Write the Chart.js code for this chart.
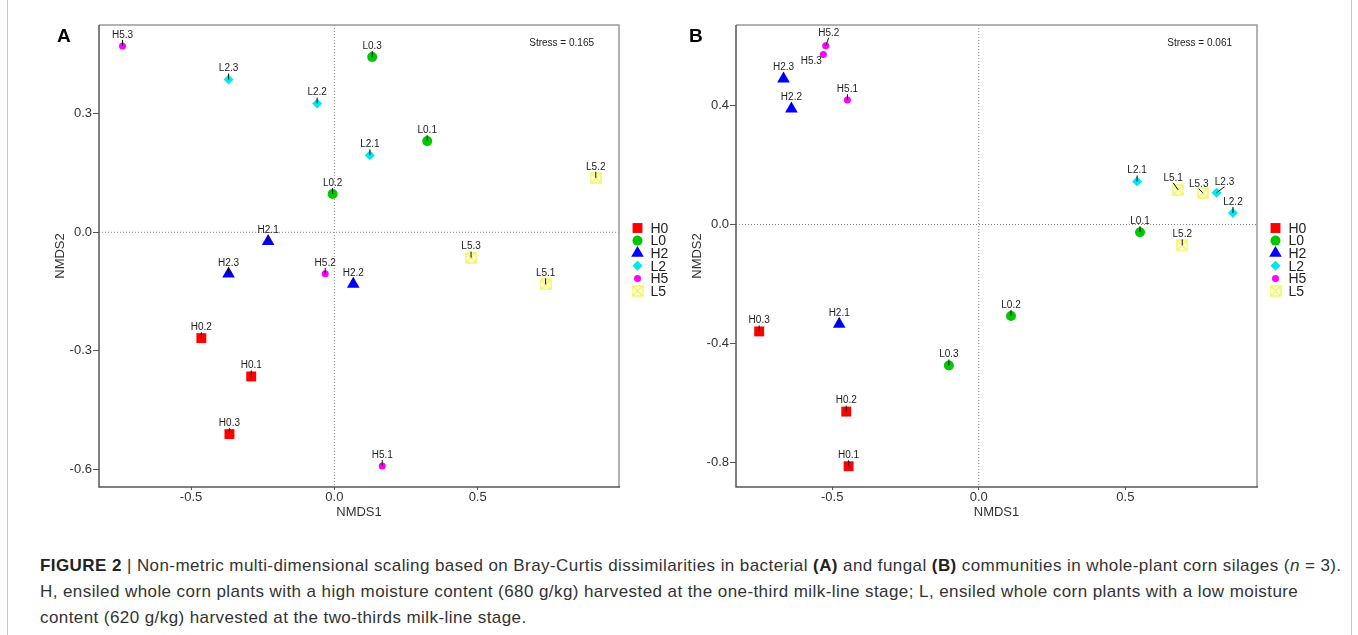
<!DOCTYPE html>
<html>
<head>
<meta charset="utf-8">
<script src="https://cdn.jsdelivr.net/npm/chart.js@4.4.0/dist/chart.umd.min.js"></script>
<style>
    body { margin: 0; background: #fff; width: 1358px; height: 635px; position: relative; overflow: hidden; font-family: "Liberation Sans", Arial, sans-serif; }
    #cA { position: absolute; left: 0; top: 0; }
    #cB { position: absolute; left: 680px; top: 0; }
    .tag { position: absolute; font-weight: bold; font-size: 19px; line-height: 19px; color: #000; }
    .frame { position: absolute; left: 7px; top: -2px; width: 1343px; height: 640px; border-left: 1px solid #c8c8c8; border-right: 1px solid #c8c8c8; }
    .caption { position: absolute; left: 40px; top: 553px; font-size: 17px; letter-spacing: 0.42px; line-height: 26px; color: #333; white-space: nowrap; }
    .caption b { color: #222; }
</style>
</head>
<body>
<div class="frame"></div>
<canvas id="cA" width="680" height="520"></canvas>
<canvas id="cB" width="678" height="520"></canvas>
<div class="tag" style="left:57px;top:26px">A</div>
<div class="tag" style="left:689px;top:26px">B</div>
<div class="caption">
    <b>FIGURE 2</b> | Non-metric multi-dimensional scaling based on Bray-Curtis dissimilarities in bacterial <b>(A)</b> and fungal <b>(B)</b> communities in whole-plant corn silages (<i>n</i> = 3).<br>
    H, ensiled whole corn plants with a high moisture content (680 g/kg) harvested at the one-third milk-line stage; L, ensiled whole corn plants with a low moisture<br>
    content (620 g/kg) harvested at the two-thirds milk-line stage.
</div>

<script>
// --- datos ---
const groups = ['H0', 'L0', 'H2', 'L2', 'H5', 'L5'];

const sampleNames = ['H0.1', 'H0.2', 'H0.3', 'L0.1', 'L0.2', 'L0.3', 'H2.1', 'H2.2', 'H2.3',
                     'L2.1', 'L2.2', 'L2.3', 'H5.1', 'H5.2', 'H5.3', 'L5.1', 'L5.2', 'L5.3'];

// Panel A (bacterias)
const aX = [-0.290, -0.464, -0.366, 0.324, -0.006, 0.132, -0.231, 0.066, -0.369,
            0.124, -0.060, -0.369, 0.167, -0.032, -0.739, 0.737, 0.912, 0.477];
const aY = [-0.365, -0.268, -0.511, 0.231, 0.097, 0.444, -0.023, -0.131, -0.105,
            0.195, 0.326, 0.387, -0.592, -0.105, 0.472, -0.132, 0.138, -0.064];
const aXTicks = [-0.5, 0.0, 0.5];
const aYTicks = [-0.6, -0.3, 0.0, 0.3];
const aStress = 'Stress = 0.165';

// Panel B (hongos)
const bX = [-0.444, -0.452, -0.749, 0.550, 0.110, -0.102, -0.476, -0.639, -0.666,
            0.540, 0.867, 0.811, -0.448, -0.522, -0.530, 0.680, 0.694, 0.764];
const bY = [-0.814, -0.630, -0.360, -0.026, -0.308, -0.475, -0.335, 0.390, 0.491,
            0.145, 0.039, 0.107, 0.419, 0.602, 0.573, 0.117, -0.070, 0.107];
const bXTicks = [-0.5, 0.0, 0.5];
const bYTicks = [-0.8, -0.4, 0.0, 0.4];
const bStress = 'Stress = 0.061';

// --- estilos ---
function crossBox() {
    const c = document.createElement('canvas');
    c.width = 12; c.height = 12;
    const g = c.getContext('2d');
    g.strokeStyle = '#f4f43c';
    g.lineWidth = 1.2;
    g.strokeRect(1, 1, 10, 10);
    g.beginPath();
    g.moveTo(1, 1); g.lineTo(11, 11);
    g.moveTo(11, 1); g.lineTo(1, 11);
    g.stroke();
    return c;
}

const groupStyle = {
    H0: { pointStyle: 'rect', radius: 7, color: '#ff0000' },
    L0: { pointStyle: 'circle', radius: 5, color: '#00c800' },
    H2: { pointStyle: 'triangle', radius: 7.3, color: '#0000ff' },
    L2: { pointStyle: 'rectRot', radius: 5, color: '#00e8ee' },
    H5: { pointStyle: 'circle', radius: 3.5, color: '#ff00ff' },
    L5: { pointStyle: crossBox(), radius: 6, color: '#f4f43c' }
};

// etiquetas desplazadas en el panel B
const labelNudgeB = {
    'H5.3': [-12, 7],
    'H5.2': [3, -13],
    'L5.1': [-5, -12],
    'L5.3': [-4, -9],
    'L2.3': [8, -11]
};

function buildDatasets(xs, ys) {
    return groups.map(g => {
        const st = groupStyle[g];
        const pts = [];
        sampleNames.forEach((n, i) => {
            if (n.split('.')[0] === g) pts.push({ x: xs[i], y: ys[i], name: n });
        });
        return {
            label: g,
            data: pts,
            pointStyle: st.pointStyle,
            pointRadius: st.radius,
            pointHoverRadius: st.radius,
            backgroundColor: st.color,
            borderColor: st.color,
            borderWidth: 0
        };
    });
}

const nmdsPlugin = {
    id: 'nmds',
    beforeDatasetsDraw(chart, args, opts) {
        const { ctx, chartArea: ca, scales } = chart;
        const x0 = scales.x.getPixelForValue(0);
        const y0 = scales.y.getPixelForValue(0);
        ctx.save();
        ctx.strokeStyle = '#888';
        ctx.lineWidth = 1;
        ctx.setLineDash([1, 2]);
        ctx.beginPath();
        ctx.moveTo(x0, ca.top); ctx.lineTo(x0, ca.bottom);
        ctx.moveTo(ca.left, y0); ctx.lineTo(ca.right, y0);
        ctx.stroke();
        ctx.setLineDash([]);
        // marco
        ctx.strokeStyle = '#999';
        ctx.lineWidth = 1.5;
        ctx.beginPath();
        ctx.moveTo(ca.left, ca.top); ctx.lineTo(ca.right, ca.top); ctx.lineTo(ca.right, ca.bottom);
        ctx.stroke();
        ctx.strokeStyle = '#555';
        ctx.beginPath();
        ctx.moveTo(ca.left, ca.top); ctx.lineTo(ca.left, ca.bottom); ctx.lineTo(ca.right + 1, ca.bottom);
        ctx.stroke();
        ctx.restore();
    },
    afterDatasetsDraw(chart, args, opts) {
        const { ctx, chartArea: ca } = chart;
        const nudge = opts.nudge || {};
        ctx.save();
        ctx.font = '10px "Liberation Sans", Arial, sans-serif';
        ctx.fillStyle = '#222';
        ctx.textAlign = 'center';
        ctx.textBaseline = 'middle';
        ctx.strokeStyle = '#111';
        ctx.lineWidth = 1;
        chart.data.datasets.forEach((ds, di) => {
            chart.getDatasetMeta(di).data.forEach((el, i) => {
                const name = ds.data[i].name;
                const off = nudge[name] || [0, -11];
                const lx = el.x + off[0], ly = el.y + off[1];
                if (off[1] < 0) {
                    ctx.beginPath();
                    ctx.moveTo(lx, ly + 5);
                    ctx.lineTo(el.x, el.y);
                    ctx.stroke();
                }
                ctx.fillText(name, lx, ly);
            });
        });

        // stress
        ctx.textAlign = 'right';
        ctx.fillText(opts.stress, ca.right - 25, ca.top + 18);

        // leyenda
        const legX = ca.right + 18.5;
        ctx.font = '14px "Liberation Sans", Arial, sans-serif';
        ctx.textAlign = 'left';
        groups.forEach((g, i) => {
            const st = groupStyle[g];
            const y = 228 + i * 12.6;
            ctx.fillStyle = st.color;
            ctx.strokeStyle = st.color;
            Chart.helpers.drawPoint(ctx, { pointStyle: st.pointStyle, radius: st.radius, borderWidth: 0, rotation: 0 }, legX, y);
            ctx.fillStyle = '#222';
            ctx.fillText(g, legX + 13, y + 1);
        });
        ctx.restore();
    }
};

function makeChart(id, xs, ys, xTicks, yTicks, xRange, yRange, pad, stress, nudge) {
    const tickFont = { family: '"Liberation Sans", Arial, sans-serif', size: 13 };
    return new Chart(document.getElementById(id), {
        type: 'scatter',
        data: { datasets: buildDatasets(xs, ys) },
        options: {
            responsive: false,
            animation: false,
            devicePixelRatio: 1,
            layout: { padding: pad },
            plugins: {
                legend: { display: false },
                tooltip: { enabled: false },
                nmds: { stress: stress, nudge: nudge }
            },
            scales: {
                x: {
                    type: 'linear',
                    min: xRange[0],
                    max: xRange[1],
                    afterFit: s => { s.height = 33; },
                    afterBuildTicks: s => { s.ticks = xTicks.map(v => ({ value: v })); },
                    border: { display: false },
                    grid: { drawOnChartArea: false, tickLength: 3, tickColor: '#555', tickWidth: 1 },
                    ticks: { font: tickFont, color: '#333', padding: 0, maxRotation: 0, callback: v => v.toFixed(1) },
                    title: { display: true, text: 'NMDS1', font: tickFont, color: '#333', padding: { top: 0, bottom: 0 } }
                },
                y: {
                    type: 'linear',
                    min: yRange[0],
                    max: yRange[1],
                    afterFit: s => { s.width = 49; },
                    afterBuildTicks: s => { s.ticks = yTicks.map(v => ({ value: v })); },
                    border: { display: false },
                    grid: { drawOnChartArea: false, tickLength: 6, tickColor: '#555', tickWidth: 1 },
                    ticks: { font: tickFont, color: '#333', padding: 1, callback: v => v.toFixed(1) },
                    title: { display: true, text: 'NMDS2', font: tickFont, color: '#333', padding: { top: 3, bottom: 0 } }
                }
            }
        },
        plugins: [nmdsPlugin]
    });
}

makeChart('cA', aX, aY, aXTicks, aYTicks, [-0.821, 0.993], [-0.645, 0.525],
    { left: 50, right: 61, top: 25, bottom: 0 }, aStress, {});
makeChart('cB', bX, bY, bXTicks, bYTicks, [-0.828, 0.949], [-0.884, 0.672],
    { left: 7, right: 101, top: 25, bottom: 0 }, bStress, labelNudgeB);
</script>
</body>
</html>
